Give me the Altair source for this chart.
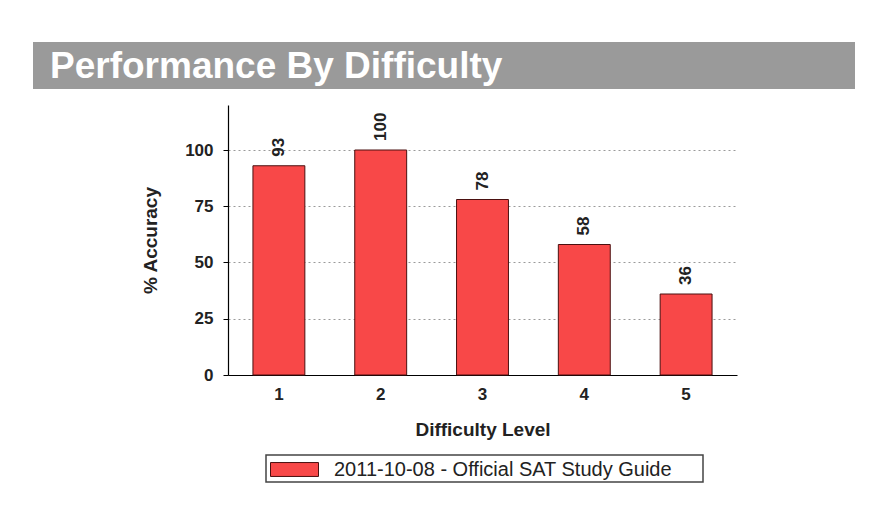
import altair as alt
import pandas as pd

# ---- data ----
levels = ["1", "2", "3", "4", "5"]
accuracy = [93, 100, 78, 58, 36]
series_name = "2011-10-08 - Official SAT Study Guide"
y_ticks = [0, 25, 50, 75, 100]
chart_title = "Performance By Difficulty"
x_title = "Difficulty Level"
y_title = "% Accuracy"

df = pd.DataFrame({
    "level": levels,
    "acc": accuracy,
    "series": [series_name] * len(levels),
})
deco = pd.DataFrame({"t": [chart_title]})

FONT = "Liberation Sans"

x_enc = alt.X(
    "level:N",
    sort=levels,
    scale=alt.Scale(paddingInner=0.49, paddingOuter=0.245),
    axis=alt.Axis(
        title=x_title, labelAngle=0, ticks=False, tickSize=0,
        labelPadding=11, titlePadding=18,
        labelFontSize=17, labelFontWeight="bold", labelColor="#222",
        titleFontSize=19, titleFontWeight="bold", titleColor="#222",
        domainColor="#000", domainWidth=1.2, grid=False,
    ),
)
y_enc = alt.Y(
    "acc:Q",
    scale=alt.Scale(domain=[0, 120], nice=False),
    axis=alt.Axis(
        title=y_title, values=y_ticks, tickSize=5, tickColor="#000",
        labelPadding=10, titlePadding=24,
        labelFontSize=17, labelFontWeight="bold", labelColor="#222",
        titleFontSize=19, titleFontWeight="bold", titleColor="#222",
        domainColor="#000", domainWidth=1.2,
        grid=True, gridColor="#9a9a9a", gridDash=[2, 3], gridWidth=1,
    ),
)

banner = alt.Chart(deco).mark_rect(color="#9a9a9a").encode(
    x=alt.value(-195), x2=alt.value(627), y=alt.value(-63), y2=alt.value(-16)
)
banner_text = alt.Chart(deco).mark_text(
    align="left", baseline="alphabetic", fontSize=37, fontWeight="bold",
    color="white", font=FONT,
).encode(x=alt.value(-178), y=alt.value(-27), text="t:N")

legend_box = alt.Chart(deco).mark_rect(
    fill="white", stroke="#444", strokeWidth=1.5
).encode(x=alt.value(38), x2=alt.value(475), y=alt.value(350), y2=alt.value(377))

bars = alt.Chart(df).mark_bar(stroke="#4a1010", strokeWidth=1).encode(
    x=x_enc,
    y=y_enc,
    color=alt.Color(
        "series:N",
        scale=alt.Scale(range=["#F84848"]),
        legend=alt.Legend(
            title=None, orient="none", legendX=42, legendY=340,
            symbolType="M-1,-0.29H1V0.29H-1Z", symbolSize=2304,
            symbolStrokeColor="#4a1010", symbolStrokeWidth=1,
            symbolOpacity=1, labelFontSize=20, labelFont=FONT,
            labelColor="#222", labelOffset=15, padding=0, labelLimit=600,
        ),
    ),
)

labels = alt.Chart(df).mark_text(
    angle=270, align="left", baseline="middle", dx=9,
    fontSize=17, fontWeight="bold", color="#222", font=FONT,
).encode(x=alt.X("level:N", sort=levels), y="acc:Q", text="acc:Q")

chart = alt.layer(banner, banner_text, legend_box, bars, labels).properties(
    width=509, height=270,
    autosize=alt.AutoSizeParams(type="none"),
    padding={"left": 220, "top": 97, "right": 122, "bottom": 120},
    background="white",
).configure(font=FONT).configure_view(stroke=None)

chart.save("out.html", embed_options={"renderer": "svg", "actions": False})
